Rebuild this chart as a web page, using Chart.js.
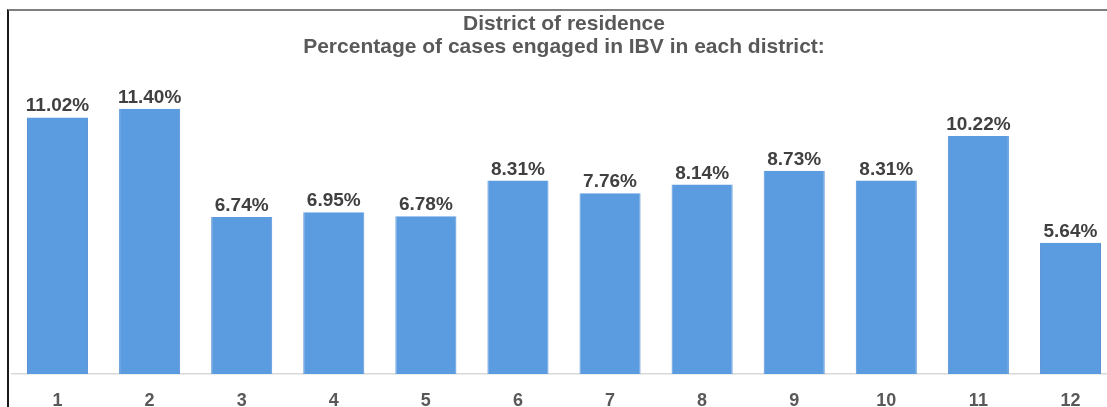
<!DOCTYPE html>
<html>
<head>
<meta charset="utf-8">
<script src="https://cdn.jsdelivr.net/npm/chart.js@4/dist/chart.umd.min.js"></script>
<style>
  html, body { margin: 0; padding: 0; background: #fff; overflow: hidden; width: 1107px; height: 407px; }
  #wrap { position: absolute; left: 0; top: 0; width: 1130px; height: 424px; }
  #frame { position: absolute; left: 7px; top: 9px; width: 1200px; height: 500px;
           border-top: 2px solid #7f7f7f; border-left: 2px solid #1a1a1a; box-sizing: border-box; }
</style>
</head>
<body>
<div id="frame"></div>
<div id="wrap"><canvas id="chart" width="1130" height="424"></canvas></div>
<script>
const districts = ["1", "2", "3", "4", "5", "6", "7", "8", "9", "10", "11", "12"];
const percentages = [11.02, 11.40, 6.74, 6.95, 6.78, 8.31, 7.76, 8.14, 8.73, 8.31, 10.22, 5.64];
const titleLines = ["District of residence", "Percentage of cases engaged in IBV in each district:"];

// labels au-dessus des barres
const valueLabels = {
  id: "valueLabels",
  afterDatasetsDraw(chart) {
    const ctx = chart.ctx;
    const meta = chart.getDatasetMeta(0);
    ctx.save();
    ctx.font = "bold 19px 'Liberation Sans'";
    ctx.fillStyle = "#404040";
    ctx.textAlign = "center";
    ctx.textBaseline = "alphabetic";
    meta.data.forEach((bar, i) => {
      ctx.fillText(percentages[i].toFixed(2) + "%", bar.x, bar.y - 6);
    });
    ctx.restore();
  }
};

const ctx = document.getElementById("chart").getContext("2d");
new Chart(ctx, {
  type: "bar",
  data: {
    labels: districts,
    datasets: [{
      data: percentages,
      backgroundColor: "#5b9be0",
      borderColor: "#5590d6",
      borderWidth: { left: 1, right: 1, top: 0, bottom: 0 },
      borderSkipped: false,
      categoryPercentage: 1,
      barPercentage: 0.663
    }]
  },
  options: {
    responsive: false,
    animation: false,
    layout: { padding: { left: 11.5, right: 13.5, top: 0, bottom: 4 } },
    plugins: {
      legend: { display: false },
      tooltip: { enabled: false },
      title: {
        display: true,
        text: titleLines,
        color: "#595959",
        font: { family: "'Liberation Sans'", size: 21, weight: "bold", lineHeight: 1.1 },
        padding: { top: 12.5, bottom: 12.7 }
      }
    },
    scales: {
      x: {
        grid: { display: false },
        border: { display: true, color: "#d9d9d9", width: 1.5 },
        ticks: {
          color: "#595959",
          padding: 10,
          font: { family: "'Liberation Sans'", size: 18, weight: "bold", lineHeight: 1 }
        }
      },
      y: { display: false, min: 0, max: 13 }
    }
  },
  plugins: [valueLabels]
});
</script>
</body>
</html>
